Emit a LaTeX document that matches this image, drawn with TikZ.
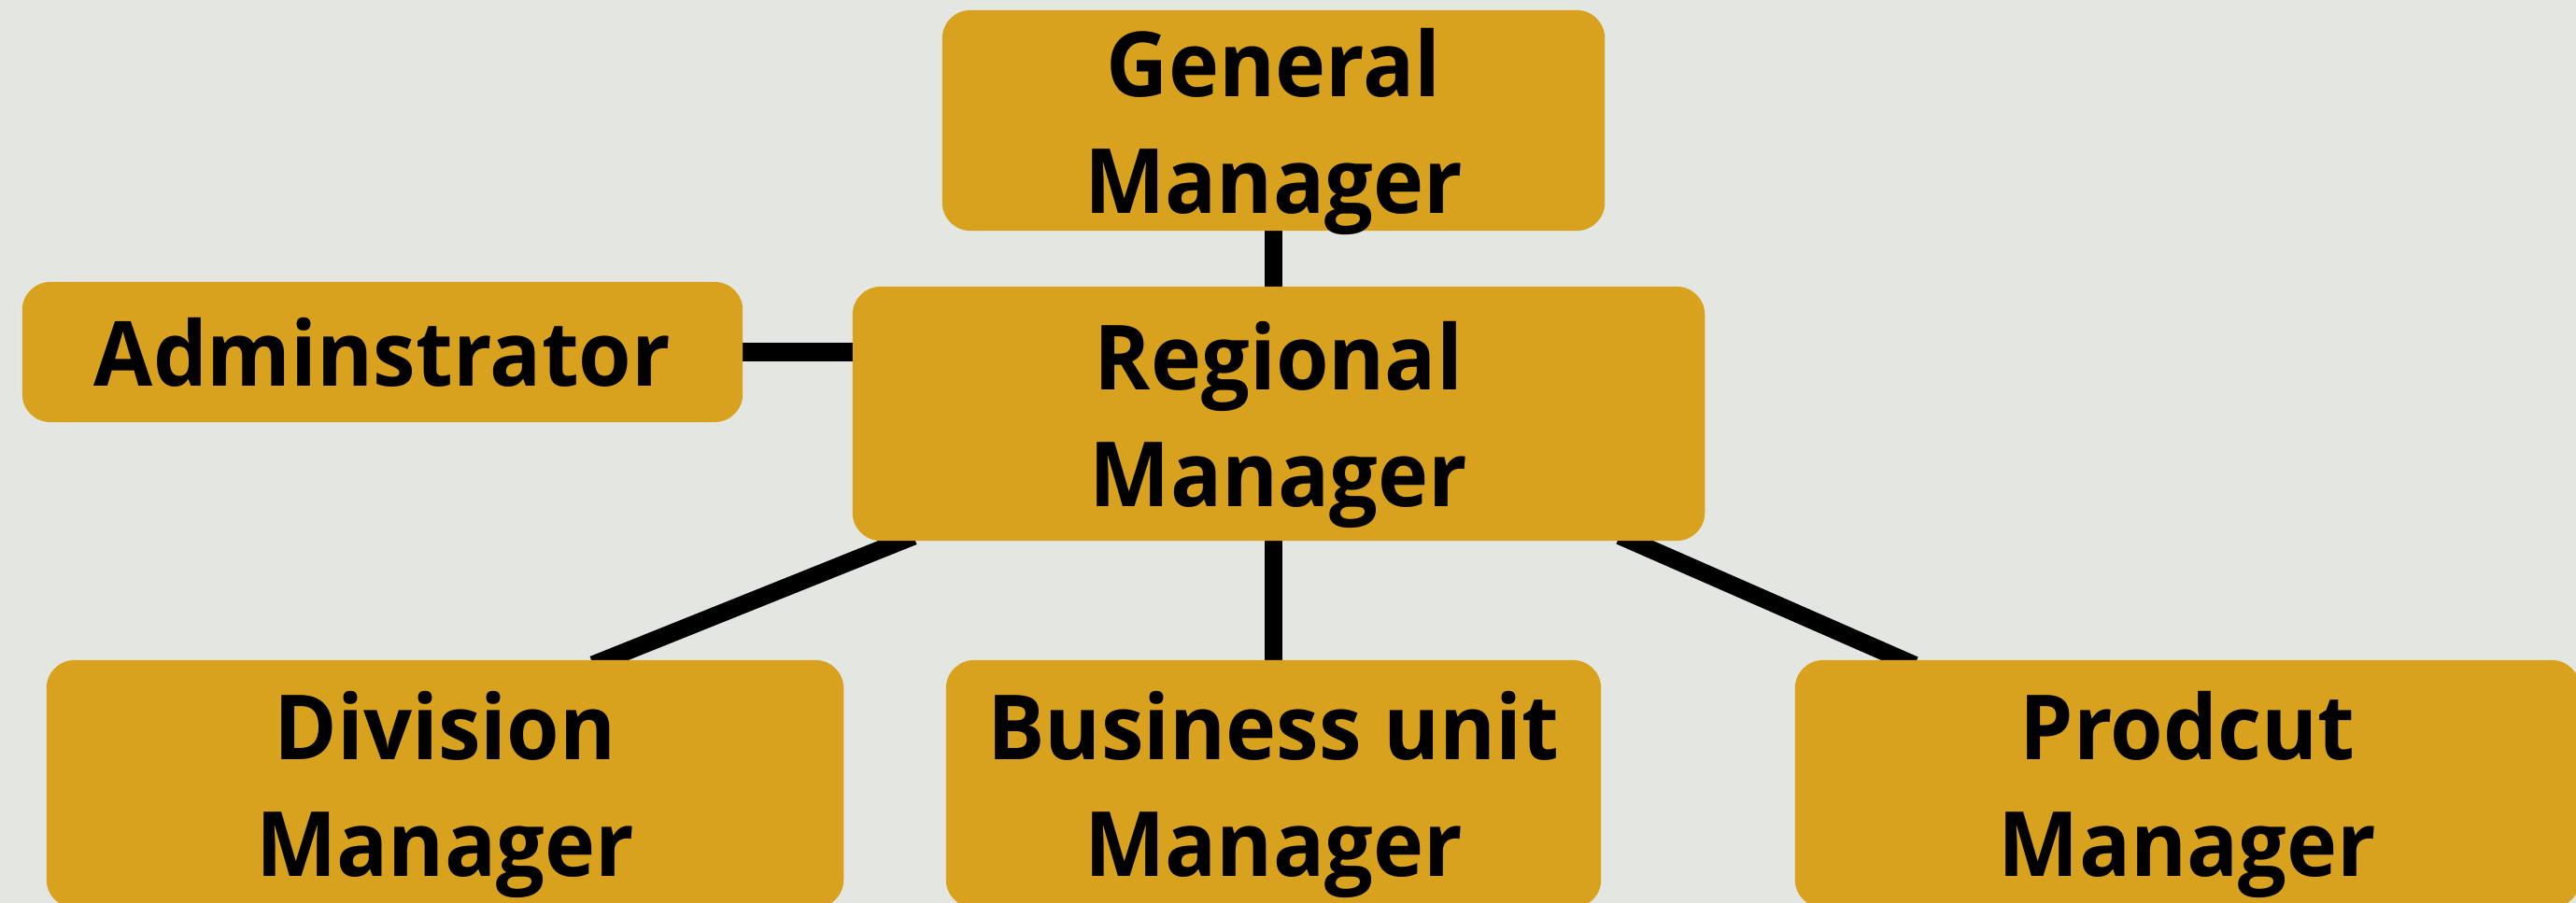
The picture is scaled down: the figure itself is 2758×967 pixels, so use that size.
\documentclass[tikz,border=0pt]{standalone}
\usepackage{fontspec}
\setmainfont{Open Sans}[FakeStretch=0.95]
\usetikzlibrary{backgrounds}
\definecolor{boxgold}{RGB}{216,162,31}
\definecolor{paper}{RGB}{227,230,225}
\begin{document}
\begin{tikzpicture}[x=0.01cm, y=-0.01cm,
  box/.style={fill=boxgold, rounded corners=0.3cm, inner sep=0pt, align=center,
    text depth=0pt, font=\bfseries\fontsize{27.4}{35.6}\selectfont},
  link/.style={line width=0.19cm, line cap=butt, shorten <=-0.15cm, shorten >=-0.15cm}]
% === Page ===
\useasboundingbox (0,0) rectangle (2758,967);

% === Boxes ===
\node[box, minimum width=7.09cm, minimum height=2.36cm] (gm) at (1363.5,129) {General\\Manager};
\node[box, minimum width=9.12cm, minimum height=2.72cm] (rm) at (1369,443) {Regional\\Manager};
\node[box, minimum width=7.71cm, minimum height=1.50cm] (adm) at (409.5,377) {Adminstrator};
\node[box, minimum width=8.53cm, minimum height=2.65cm] (div) at (476.5,839.5) {Division\\Manager};
\node[box, minimum width=7.01cm, minimum height=2.65cm] (bu) at (1363.5,839.5) {Business unit\\Manager};
\node[box, minimum width=8.40cm, minimum height=2.65cm] (prod) at (2342,839.5) {Prodcut\\Manager};

% === Connectors (behind the boxes) ===
\begin{scope}[on background layer]
\fill[paper] (0,0) rectangle (2758,967);
\draw[link] (gm.south) -- (gm.south |- rm.north);
\draw[link] (adm.east) -- (adm.east -| rm.west);
\draw[link] (bu.north) -- (bu.north |- rm.south);
\draw[link] ([shift={(52,0)}]rm.south west) -- ([shift={(600,0)}]div.north west);
\draw[link] ([shift={(-78,0)}]rm.south east) -- ([shift={(115,0)}]prod.north west);
\end{scope}
\end{tikzpicture}
\end{document}
